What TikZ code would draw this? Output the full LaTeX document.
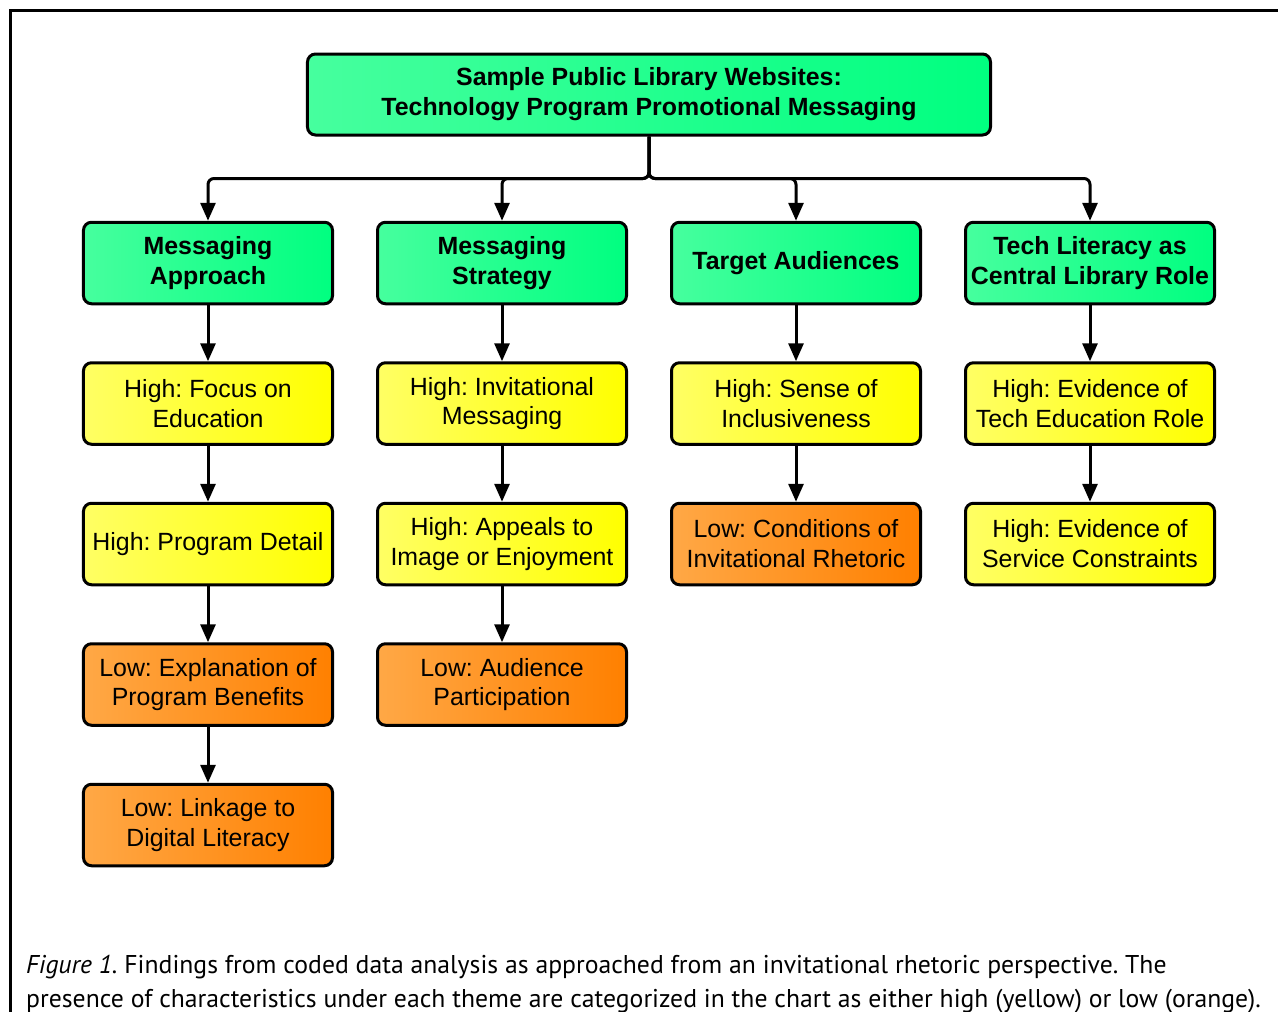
\documentclass[tikz,border=0pt]{standalone}
\usepackage{fontspec}
\setmainfont{Liberation Sans}
\newfontfamily\capfont{PT Sans}
\usetikzlibrary{positioning,arrows.meta}
\frenchspacing
\definecolor{greenL}{RGB}{70,255,158}
\definecolor{greenR}{RGB}{0,255,128}
\definecolor{yellowL}{RGB}{255,255,100}
\definecolor{yellowR}{RGB}{255,255,0}
\definecolor{orangeL}{RGB}{255,168,70}
\definecolor{orangeR}{RGB}{255,128,0}
\tikzstyle{theme} = [rectangle, rounded corners=8bp, draw=black, line width=3bp, minimum width=249bp, minimum height=81.5bp, inner sep=2bp, align=center, left color=greenL, right color=greenR, font=\fontsize{25}{30}\selectfont\bfseries]
\tikzstyle{high} = [theme, left color=yellowL, right color=yellowR, font=\fontsize{25}{30}\selectfont]
\tikzstyle{low} = [theme, left color=orangeL, right color=orangeR, font=\fontsize{25}{30}\selectfont]
\tikzstyle{link} = [draw, line width=3bp, -{Triangle[length=18bp,width=15bp]}]

\begin{document}
\begin{tikzpicture}[x=1bp,y=1bp]
	\useasboundingbox (0,0) rectangle (1278,-1012);
	\draw[line width=3bp] (1278,-10) -- (10,-10) -- (10,-1012);

	\node[theme, minimum width=683bp, minimum height=81bp] (top) at (649,-94.5) {Sample Public Library Websites:\\Technology Program Promotional Messaging};

	\node[theme] (appr) at (208,-263) {Messaging\\Approach};
	\node[theme, right=42bp of appr] (strat) {Messaging\\Strategy};
	\node[theme, right=42bp of strat] (aud) {Target Audiences};
	\node[theme, right=42bp of aud] (role) {Tech Literacy as\\Central Library Role};

	\node[high, below=56bp of appr] (educ) {High: Focus on\\Education};
	\node[high, below=56bp of educ] (detail) {High: Program Detail};
	\node[low, below=56bp of detail] (benef) {Low: Explanation of\\Program Benefits};
	\node[low, below=56bp of benef] (digit) {Low: Linkage to\\Digital Literacy};

	\node[high, below=56bp of strat] (invit) {High: Invitational\\Messaging};
	\node[high, below=56bp of invit] (image) {High: Appeals to\\Image or Enjoyment};
	\node[low, below=56bp of image] (partic) {Low: Audience\\Participation};

	\node[high, below=56bp of aud] (incl) {High: Sense of\\Inclusiveness};
	\node[low, below=56bp of incl] (cond) {Low: Conditions of\\Invitational Rhetoric};

	\node[high, below=56bp of role] (teched) {High: Evidence of\\Tech Education Role};
	\node[high, below=56bp of teched] (constr) {High: Evidence of\\Service Constraints};

	\coordinate[below=42bp of top.south] (bus);
	\foreach \t in {appr,strat,aud,role}
		\draw[link, rounded corners=6bp] (top.south) -- (bus) -| (\t.north);

	\draw[link] (appr) -- (educ);
	\draw[link] (educ) -- (detail);
	\draw[link] (detail) -- (benef);
	\draw[link] (benef) -- (digit);
	\draw[link] (strat) -- (invit);
	\draw[link] (invit) -- (image);
	\draw[link] (image) -- (partic);
	\draw[link] (aud) -- (incl);
	\draw[link] (incl) -- (cond);
	\draw[link] (role) -- (teched);
	\draw[link] (teched) -- (constr);

	\node[anchor=base west, align=left, inner sep=0pt, font=\capfont\fontsize{25.8}{34}\selectfont] (cap) at (26,-1007) {\textit{Figure 1.} Findings from coded data analysis as approached from an invitational rhetoric perspective. The\\presence of characteristics under each theme are categorized in the chart as either high (yellow) or low (orange).};
\end{tikzpicture}
\end{document}
